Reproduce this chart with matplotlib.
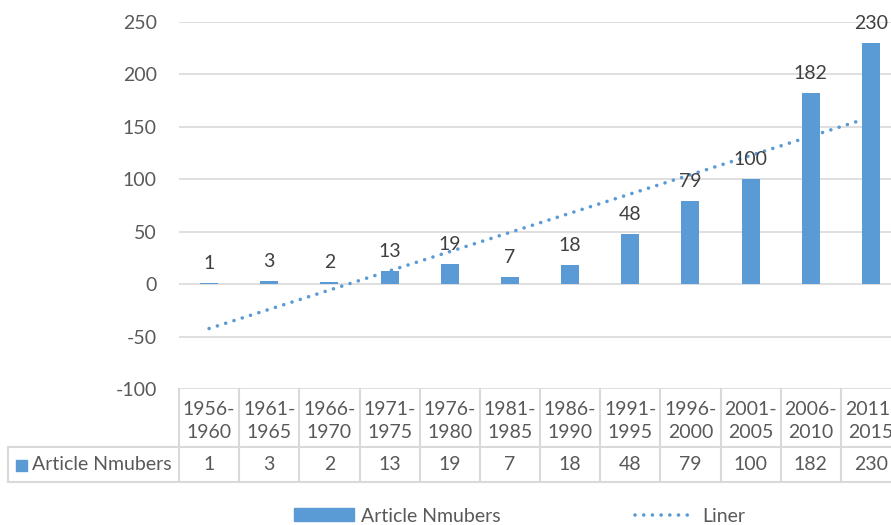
import numpy as np
import matplotlib
matplotlib.use("Agg")
import matplotlib.pyplot as plt
from matplotlib.patches import Rectangle
from matplotlib.lines import Line2D
from matplotlib.transforms import blended_transform_factory

plt.rcParams['font.family'] = ['Lato', 'DejaVu Sans']
plt.rcParams['axes.unicode_minus'] = False

periods = ['1956-\n1960', '1961-\n1965', '1966-\n1970', '1971-\n1975', '1976-\n1980',
           '1981-\n1985', '1986-\n1990', '1991-\n1995', '1996-\n2000', '2001-\n2005',
           '2006-\n2010', '2011-\n2015']
articles = [1, 3, 2, 13, 19, 7, 18, 48, 79, 100, 182, 230]
series_name = 'Article Nmubers'
trend_name = 'Liner'

blue = '#5B9BD5'
txt = '#595959'
grid = '#D9D9D9'
fs = 14

W, H = 891, 525
fig = plt.figure(figsize=(W/100, H/100), dpi=100)
# plot area runs past the right edge, like the cropped original
ax = fig.add_axes([179/W, 1-389/H, 722/W, 367/H])

x = np.arange(len(articles))
ax.set_xlim(-0.5, len(articles)-0.5)
ax.set_ylim(-100, 250)
ax.set_yticks(np.arange(-100, 251, 50))

ax.bar(x, articles, width=0.3, color=blue, zorder=3)

# linear trendline, as excel does it
coef = np.polyfit(x, articles, 1)
ax.plot(x, np.polyval(coef, x), color=blue, lw=2.6, ls=(0, (0.01, 2.4)),
        dash_capstyle='round', zorder=2)

for i, v in enumerate(articles):
    ax.annotate(str(v), (i, v), xytext=(0, 10), textcoords='offset points',
                ha='center', va='baseline', fontsize=fs, color='#404040', zorder=4)

for s in ax.spines.values():
    s.set_visible(False)
ax.yaxis.grid(True, color=grid, lw=1.2)
ax.set_axisbelow(True)
ax.tick_params(axis='y', length=0, pad=16, labelsize=fs, labelcolor=txt)
ax.tick_params(axis='x', length=0, labelbottom=False)

# data table under the axis
tr = blended_transform_factory(ax.transData, fig.transFigure)
y_top, y_mid, y_bot = 1-389/H, 1-447/H, 1-482/H
edges = np.arange(len(articles)+1) - 0.5
for e in edges:
    ax.plot([e, e], [y_top, y_bot], transform=tr, color=grid, lw=1.5, clip_on=False)
for yy in (y_mid, y_bot):
    ax.plot([8/W, 1.1], [yy, yy], transform=fig.transFigure, color=grid, lw=1.5, clip_on=False)
ax.plot([8/W, 8/W], [y_mid, y_bot], transform=fig.transFigure, color=grid, lw=1.5, clip_on=False)

for i, p in enumerate(periods):
    ax.text(i, 1-421/H, p, transform=tr, ha='center', va='center', fontsize=fs,
            color=txt, linespacing=1.45)
    ax.text(i, 1-465/H, str(articles[i]), transform=tr, ha='center', va='center',
            fontsize=fs, color=txt)
fig.patches.append(Rectangle((16/W, 1-471/H), 11/W, 11/H, transform=fig.transFigure,
                             color=blue, figure=fig))
fig.text(32/W, 1-465/H, series_name, ha='left', va='center', fontsize=fs, color=txt)

handles = [Rectangle((0, 0), 1, 1, color=blue),
           Line2D([], [], color=blue, lw=2.6, ls=(0, (0.01, 2.4)), dash_capstyle='round')]
fig.legend(handles, [series_name, trend_name], loc='center left',
           bbox_to_anchor=(294/W, 1-516/H), ncol=2, frameon=False, fontsize=fs,
           labelcolor=txt, handlelength=3.1, handleheight=0.6, handletextpad=0.35,
           columnspacing=6.9, borderpad=0, borderaxespad=0)

fig.savefig('out.png', dpi=100)
